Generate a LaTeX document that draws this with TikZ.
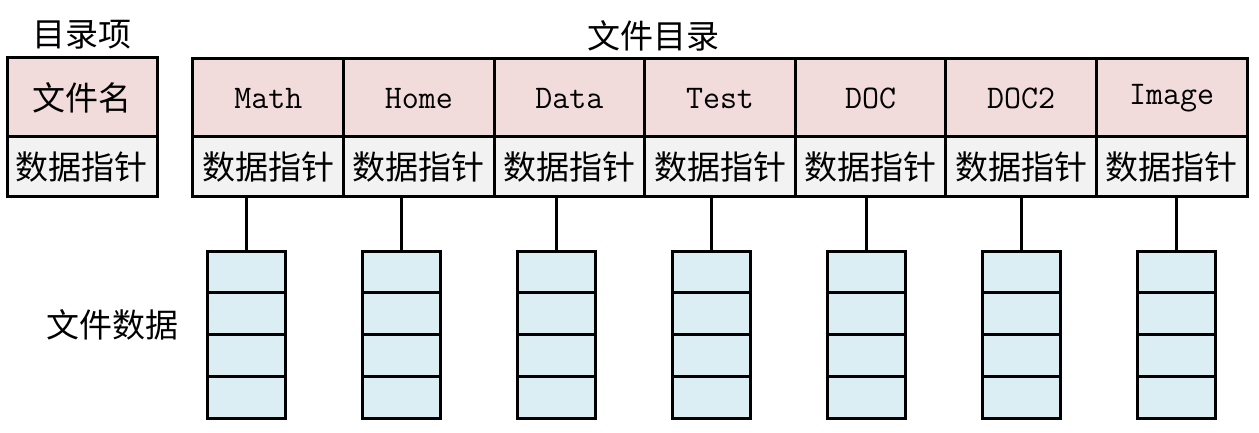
\documentclass[tikz,border=0pt]{standalone}
\usepackage{fontspec}
\newfontfamily\cjk{Noto Sans CJK SC}
\definecolor{namefill}{HTML}{F2DCDB}
\definecolor{ptrfill}{HTML}{F2F2F2}
\definecolor{datafill}{HTML}{DAEEF3}
\tikzset{
  namecell/.style={draw=black, line width=3pt, fill=namefill, minimum width=150.6pt, minimum height=79pt, inner sep=0pt, font=\fontsize{33}{35}\selectfont\ttfamily},
  ptrcell/.style={draw=black, line width=3pt, fill=ptrfill, minimum width=150.6pt, minimum height=60pt, inner sep=0pt, font=\fontsize{33}{35}\selectfont\cjk},
  datacell/.style={draw=black, line width=3pt, fill=datafill, minimum width=78pt, minimum height=41.75pt, inner sep=0pt},
  link/.style={draw=black, line width=3pt},
  title/.style={inner sep=0pt, font=\fontsize{33}{35}\selectfont\cjk}
}
\begin{document}
\begin{tikzpicture}[x=1pt,y=-1pt]
\useasboundingbox (0,0) rectangle (1259,433);
% legend entry
\node[title] (lbl) at (82,35) {目录项};
\node[namecell, minimum width=150pt, font=\fontsize{33}{35}\selectfont\cjk] (ln) at (82,97.5) {文件名};
\node[ptrcell, minimum width=150pt] (lp) at (82,167) {数据指针};
% directory
\node[title] (dir) at (653,36) {文件目录};
\node[title] (fdata) at (112,325) {文件数据};
\foreach \i/\name in {1/Math,2/Home,3/Data,4/Test,5/DOC,6/DOC2,7/Image}{
  \pgfmathsetmacro{\cx}{193+150.57*(\i-0.5)}
  \pgfmathsetmacro{\sx}{246+155*(\i-1)}
  \node[namecell] (n\i) at (\cx,98.5) {\name};
  \node[ptrcell] (p\i) at (\cx,167) {数据指针};
  \foreach \j in {1,2,3,4}{
    \pgfmathsetmacro{\sy}{251+41.75*(\j-0.5)}
    \node[datacell] (s\i-\j) at (\sx,\sy) {};
  }
  \draw[link] (s\i-1.north |- p\i.south) -- (s\i-1.north);
}
\end{tikzpicture}
\end{document}
